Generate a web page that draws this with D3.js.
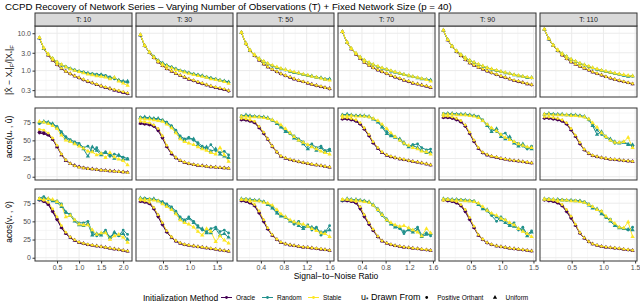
<!DOCTYPE html>
<html>
<head>
<meta charset="utf-8">
<script src="https://cdn.jsdelivr.net/npm/d3@7"></script>
<style>
body { margin: 0; background: #fff; }
svg { display: block; font-family: "Liberation Sans", Arial, sans-serif; }
</style>
</head>
<body>
<svg id="chart" width="640" height="303"></svg>
<script>
// facet labels and signal-to-noise grid of each facet
const panelLabels = ["T: 10", "T: 30", "T: 50", "T: 70", "T: 90", "T: 110"]
const snr = [
    [0.1, 0.2, 0.3, 0.4, 0.5, 0.6, 0.7, 0.8, 0.9, 1.0, 1.1, 1.2, 1.3, 1.4, 1.5, 1.6, 1.7, 1.8, 1.9, 2.0, 2.1],
    [0.08, 0.16, 0.25, 0.33, 0.41, 0.49, 0.57, 0.66, 0.74, 0.82, 0.9, 0.98, 1.07, 1.15, 1.23, 1.31, 1.39, 1.48, 1.56, 1.64, 1.72],
    [0.06, 0.14, 0.21, 0.29, 0.37, 0.45, 0.52, 0.6, 0.68, 0.75, 0.83, 0.91, 0.98, 1.06, 1.14, 1.22, 1.29, 1.37, 1.45, 1.52, 1.6],
    [0.07, 0.15, 0.22, 0.3, 0.37, 0.44, 0.52, 0.59, 0.67, 0.74, 0.82, 0.89, 0.96, 1.04, 1.11, 1.19, 1.26, 1.34, 1.41, 1.49, 1.56],
    [0.06, 0.13, 0.2, 0.27, 0.34, 0.41, 0.48, 0.55, 0.62, 0.69, 0.76, 0.83, 0.91, 0.98, 1.05, 1.12, 1.19, 1.26, 1.33, 1.4, 1.47],
    [0.07, 0.14, 0.21, 0.28, 0.35, 0.42, 0.49, 0.56, 0.63, 0.7, 0.77, 0.83, 0.9, 0.97, 1.04, 1.11, 1.18, 1.25, 1.32, 1.39, 1.46]
]
const xTicks = [[0.5, 1, 1.5, 2], [0.5, 1, 1.5], [0.4, 0.8, 1.2, 1.6], [0.4, 0.8, 1.2, 1.6], [0.5, 1, 1.5], [0.5, 1, 1.5]]
const errTicks = [0.3, 1, 3, 10]
const angleTicks = [0, 25, 50, 75]

// relative error |Xhat - X*|F / |X*|F, one inner array per facet
const errOraclePos = [
    [7.4, 3.9, 2.6, 1.88, 1.42, 1.13, 0.94, 0.81, 0.71, 0.63, 0.56, 0.5, 0.46, 0.42, 0.38, 0.35, 0.32, 0.3, 0.28, 0.26, 0.24],
    [8.9, 4.55, 3.0, 2.18, 1.68, 1.34, 1.11, 0.95, 0.83, 0.73, 0.65, 0.58, 0.53, 0.48, 0.44, 0.41, 0.38, 0.35, 0.33, 0.31, 0.28],
    [10.3, 5.15, 3.38, 2.48, 1.88, 1.49, 1.24, 1.06, 0.92, 0.81, 0.72, 0.65, 0.59, 0.54, 0.5, 0.46, 0.42, 0.39, 0.37, 0.35, 0.32],
    [10.8, 5.55, 3.77, 2.73, 2.08, 1.66, 1.37, 1.18, 1.03, 0.92, 0.82, 0.73, 0.66, 0.6, 0.55, 0.5, 0.46, 0.43, 0.4, 0.38, 0.35],
    [11.9, 6.5, 4.35, 3.17, 2.47, 1.93, 1.59, 1.38, 1.21, 1.08, 0.96, 0.86, 0.77, 0.7, 0.64, 0.59, 0.54, 0.5, 0.47, 0.44, 0.41],
    [12.6, 6.9, 4.65, 3.37, 2.58, 2.05, 1.7, 1.47, 1.29, 1.14, 1.02, 0.91, 0.82, 0.75, 0.68, 0.62, 0.57, 0.53, 0.5, 0.47, 0.44]
]
const errOracleUni = [
    [7.5, 3.85, 2.58, 1.9, 1.45, 1.15, 0.96, 0.82, 0.72, 0.64, 0.57, 0.51, 0.47, 0.42, 0.39, 0.35, 0.33, 0.3, 0.28, 0.26, 0.245],
    [9.0, 4.6, 3.05, 2.2, 1.7, 1.35, 1.12, 0.96, 0.84, 0.74, 0.66, 0.59, 0.54, 0.49, 0.45, 0.41, 0.38, 0.35, 0.33, 0.31, 0.29],
    [10.4, 5.2, 3.4, 2.5, 1.9, 1.5, 1.25, 1.07, 0.93, 0.82, 0.73, 0.66, 0.6, 0.54, 0.5, 0.46, 0.43, 0.4, 0.37, 0.35, 0.33],
    [10.9, 5.6, 3.8, 2.75, 2.1, 1.67, 1.38, 1.19, 1.04, 0.93, 0.83, 0.74, 0.67, 0.61, 0.55, 0.51, 0.46, 0.44, 0.41, 0.38, 0.355],
    [12.0, 6.6, 4.4, 3.2, 2.5, 1.95, 1.6, 1.4, 1.22, 1.09, 0.97, 0.87, 0.78, 0.71, 0.65, 0.6, 0.54, 0.51, 0.48, 0.44, 0.42],
    [12.7, 7.0, 4.7, 3.4, 2.6, 2.07, 1.71, 1.48, 1.3, 1.15, 1.03, 0.92, 0.83, 0.76, 0.68, 0.63, 0.58, 0.54, 0.5, 0.47, 0.44]
]
const errRandomPos = [
    [7.5, 3.9, 2.7, 2.1, 1.7, 1.45, 1.28, 1.15, 1.05, 0.97, 0.92, 0.86, 0.83, 0.8, 0.78, 0.74, 0.68, 0.6, 0.56, 0.5, 0.48],
    [9.0, 4.6, 3.1, 2.4, 1.9, 1.6, 1.4, 1.25, 1.12, 1.02, 0.95, 0.88, 0.82, 0.77, 0.72, 0.68, 0.64, 0.6, 0.56, 0.52, 0.49],
    [10.4, 5.2, 3.5, 2.6, 2.05, 1.75, 1.5, 1.35, 1.22, 1.12, 1.03, 0.96, 0.9, 0.84, 0.79, 0.75, 0.7, 0.67, 0.63, 0.6, 0.58],
    [10.9, 5.6, 3.85, 2.85, 2.3, 1.9, 1.62, 1.42, 1.28, 1.16, 1.06, 0.98, 0.9, 0.84, 0.78, 0.73, 0.68, 0.65, 0.61, 0.57, 0.54],
    [12.0, 6.6, 4.45, 3.35, 2.7, 2.2, 1.88, 1.64, 1.45, 1.3, 1.18, 1.08, 1.0, 0.93, 0.87, 0.82, 0.77, 0.73, 0.69, 0.66, 0.63],
    [12.7, 7.0, 4.75, 3.55, 2.85, 2.35, 2.0, 1.75, 1.56, 1.4, 1.28, 1.17, 1.08, 1.0, 0.94, 0.88, 0.83, 0.79, 0.75, 0.72, 0.7]
]
const errRandomUni = [
    [7.5, 3.9, 2.7, 2.1, 1.65, 1.4, 1.25, 1.12, 1.02, 0.95, 0.88, 0.85, 0.8, 0.74, 0.78, 0.7, 0.62, 0.64, 0.55, 0.52, 0.52],
    [9.0, 4.6, 3.1, 2.35, 1.85, 1.58, 1.38, 1.22, 1.1, 1.0, 0.93, 0.87, 0.8, 0.76, 0.73, 0.66, 0.63, 0.58, 0.55, 0.53, 0.5],
    [10.4, 5.25, 3.5, 2.62, 2.08, 1.72, 1.52, 1.33, 1.2, 1.1, 1.05, 0.94, 0.88, 0.86, 0.78, 0.73, 0.72, 0.65, 0.64, 0.58, 0.6],
    [10.9, 5.65, 3.87, 2.88, 2.28, 1.88, 1.6, 1.44, 1.26, 1.15, 1.07, 0.96, 0.91, 0.83, 0.79, 0.72, 0.69, 0.63, 0.6, 0.58, 0.56],
    [12.0, 6.65, 4.5, 3.33, 2.68, 2.22, 1.86, 1.66, 1.44, 1.31, 1.17, 1.09, 0.99, 0.94, 0.86, 0.83, 0.76, 0.72, 0.7, 0.64, 0.65],
    [12.7, 7.05, 4.78, 3.53, 2.83, 2.37, 1.98, 1.76, 1.54, 1.42, 1.26, 1.18, 1.07, 1.01, 0.93, 0.89, 0.82, 0.8, 0.74, 0.7, 0.72]
]
const errStablePos = [
    [7.6, 3.95, 2.62, 1.92, 1.46, 1.16, 0.95, 0.83, 0.72, 0.65, 0.58, 0.52, 0.47, 0.43, 0.39, 0.36, 0.33, 0.31, 0.29, 0.27, 0.25],
    [9.1, 4.65, 3.08, 2.22, 1.72, 1.36, 1.13, 0.97, 0.85, 0.75, 0.67, 0.6, 0.55, 0.5, 0.46, 0.42, 0.39, 0.36, 0.34, 0.32, 0.29],
    [10.5, 5.25, 3.43, 2.52, 1.92, 1.52, 1.26, 1.08, 0.94, 0.83, 0.74, 0.67, 0.61, 0.55, 0.51, 0.47, 0.43, 0.4, 0.38, 0.35, 0.33],
    [11.0, 5.65, 3.83, 2.77, 2.12, 1.68, 1.39, 1.2, 1.05, 0.94, 0.84, 0.75, 0.68, 0.62, 0.56, 0.52, 0.47, 0.44, 0.41, 0.39, 0.36],
    [12.1, 6.65, 4.45, 3.23, 2.52, 1.97, 1.62, 1.41, 1.23, 1.1, 0.98, 0.88, 0.79, 0.72, 0.66, 0.6, 0.55, 0.52, 0.48, 0.45, 0.42],
    [12.8, 7.05, 4.75, 3.42, 2.62, 2.08, 1.72, 1.49, 1.31, 1.16, 1.04, 0.93, 0.84, 0.77, 0.69, 0.64, 0.58, 0.55, 0.51, 0.48, 0.45]
]
const errStableUni = [
    [7.6, 4.0, 2.8, 2.1, 1.7, 1.45, 1.25, 1.1, 1.0, 0.93, 0.86, 0.8, 0.76, 0.72, 0.7, 0.66, 0.6, 0.65, 0.52, 0.46, 0.4],
    [9.1, 4.7, 3.1, 2.3, 1.8, 1.5, 1.32, 1.18, 1.06, 0.97, 0.9, 0.84, 0.78, 0.73, 0.69, 0.65, 0.6, 0.57, 0.54, 0.5, 0.45],
    [10.5, 5.3, 3.55, 2.65, 2.1, 1.78, 1.55, 1.38, 1.25, 1.14, 1.05, 0.98, 0.92, 0.86, 0.8, 0.75, 0.7, 0.66, 0.62, 0.58, 0.55],
    [11.0, 5.7, 3.9, 2.9, 2.32, 1.92, 1.64, 1.45, 1.3, 1.18, 1.08, 1.0, 0.92, 0.85, 0.79, 0.74, 0.69, 0.65, 0.61, 0.57, 0.52],
    [12.1, 6.7, 4.5, 3.4, 2.72, 2.24, 1.9, 1.66, 1.47, 1.32, 1.2, 1.1, 1.02, 0.95, 0.89, 0.83, 0.78, 0.74, 0.7, 0.67, 0.64],
    [12.8, 7.1, 4.8, 3.6, 2.88, 2.38, 2.02, 1.77, 1.58, 1.42, 1.3, 1.19, 1.1, 1.02, 0.96, 0.9, 0.85, 0.81, 0.77, 0.74, 0.72]
]

// angle between u* and its estimate (degrees)
const acuOraclePos = [
    [60, 59, 57, 51, 42, 31, 23, 18, 15, 13.5, 12.5, 11.5, 10.5, 10, 9.2, 8.6, 8, 7.5, 7, 6.5, 6],
    [73, 72, 71, 69, 63, 53, 41, 31, 25.5, 22, 19.5, 17.8, 16.5, 15.5, 14.8, 14, 13.4, 13, 12.4, 12, 11.4],
    [78, 77.5, 76, 74, 67, 59, 51, 41, 33.5, 28, 25.2, 23.3, 21.8, 20.4, 19.2, 18, 17, 16, 15, 14, 13],
    [79, 79, 78, 76, 72, 65, 56, 46, 38.5, 33, 29.2, 27.2, 25.7, 24.3, 23.2, 21.8, 20.8, 19.8, 18.8, 17.3, 15.8],
    [81, 81, 80, 78, 75, 69, 59, 48, 38.5, 32.5, 29.6, 27.7, 26.2, 24.8, 23.8, 22.8, 21.8, 21.2, 20.3, 19.5, 18.8],
    [80, 80, 79, 78, 76, 72, 64, 55, 45, 36.5, 31.6, 28.7, 27.2, 25.8, 24.8, 23.8, 23.3, 22.8, 21.8, 21.3, 20.8]
]
const acuOracleUni = [
    [62, 61, 58, 52, 41, 30, 22, 18, 15.5, 13.5, 12, 11, 10.5, 9.5, 9, 8.5, 8, 7.5, 7, 6.5, 6],
    [74, 73, 72, 70, 65, 55, 42, 32, 26, 22, 19.5, 18, 16.5, 15.5, 15, 14, 13.5, 13, 12.5, 12, 11.5],
    [79, 78.5, 77, 75, 68, 60, 52, 42, 34, 28, 25.5, 23.5, 22, 20.5, 19.3, 18, 17, 16, 15, 14, 13],
    [80, 80, 79, 77, 73, 66, 57, 47, 39, 33, 29.5, 27.5, 26, 24.5, 23.5, 22, 21, 20, 19, 17.5, 16],
    [82, 82, 81, 79, 76, 70, 60, 49, 39, 33, 30, 28, 26.5, 25, 24, 23, 22, 21.5, 20.5, 19.7, 19],
    [81, 81, 80, 79, 77, 73, 65, 56, 46, 37, 32, 29, 27.5, 26, 25, 24, 23.5, 23, 22, 21.5, 21]
]
const acuRandomPos = [
    [73, 75, 74, 72, 69, 62, 55, 51, 48, 46, 40, 42, 35, 40, 32, 34, 28, 31, 29, 27, 25],
    [82, 81, 80, 80, 79, 78, 75, 70, 64, 56, 52, 54, 50, 47, 42, 38, 44, 36, 33, 35, 30],
    [84, 84, 83, 83, 83, 82, 80, 77, 74, 70, 64, 59, 56, 52, 48, 43, 45, 40, 42, 36, 38],
    [85, 85, 84, 84, 84, 83, 82, 80, 76, 70, 62, 58, 55, 50, 45, 42, 44, 45, 40, 37, 38],
    [87, 87, 86, 86, 86, 85, 85, 84, 83, 78, 72, 66, 62, 58, 60, 52, 48, 46, 42, 38, 42],
    [86, 86, 86, 85, 85, 85, 85, 84, 84, 82, 78, 72, 64, 58, 54, 50, 46, 47, 48, 45, 42]
]
const acuRandomUni = [
    [75, 76, 75, 73, 68, 60, 53, 49, 46, 44, 38, 28, 41, 36, 30, 33, 31, 25, 30, 24, 24],
    [81, 82, 81, 80, 80, 77, 74, 69, 62, 54, 50, 53, 52, 44, 40, 41, 35, 38, 31, 28, 26],
    [83, 85, 84, 83, 82, 82, 81, 78, 73, 68, 62, 60, 53, 50, 45, 38, 42, 36, 40, 34, 36],
    [85, 86, 85, 84, 84, 84, 83, 79, 75, 68, 59, 56, 54, 52, 47, 41, 43, 40, 36, 33, 34],
    [86, 87, 87, 86, 86, 86, 85, 84, 82, 77, 70, 62, 66, 55, 52, 55, 46, 42, 45, 40, 38],
    [86, 87, 86, 86, 86, 85, 85, 85, 84, 83, 79, 70, 58, 62, 55, 52, 48, 46, 47, 44, 44]
]
const acuStablePos = [
    [65, 64, 60, 53, 43, 31, 23, 18, 15, 13, 12, 11, 10.5, 9.8, 9, 8.5, 8, 7.5, 7, 6.5, 5.5],
    [76, 75, 74, 71, 66, 56, 43, 33, 26.5, 22.5, 20, 18.2, 16.8, 15.8, 15, 14.2, 13.6, 13.1, 12.6, 12, 11.6],
    [80, 79.5, 78, 76, 69, 61, 52, 42, 34, 28.5, 25.8, 23.8, 22.2, 20.8, 19.5, 18.2, 17.2, 16.2, 15.2, 14.2, 13.3],
    [81, 81, 80, 78, 74, 67, 58, 48, 40, 34, 30, 28, 26.3, 24.8, 23.8, 22.3, 21.2, 20.2, 19.2, 17.7, 16.3],
    [83, 83, 82, 80, 77, 71, 61, 50, 40, 33.5, 30.4, 28.3, 26.8, 25.3, 24.2, 23.2, 22.2, 21.7, 20.7, 19.9, 19.2],
    [82, 82, 81, 80, 78, 74, 66, 57, 47, 37.5, 32.4, 29.3, 27.8, 26.2, 25.2, 24.2, 23.7, 23.2, 22.2, 21.7, 21.2]
]
const acuStableUni = [
    [76, 75, 73, 70, 66, 57, 50, 48, 45, 42, 39, 35, 34, 30, 32, 26, 33, 27, 24, 22, 16],
    [80, 79, 79, 78, 77, 76, 72, 67, 60, 52, 48, 46, 44, 41, 38, 36, 33, 31, 40, 30, 21],
    [83, 83, 82, 82, 82, 81, 80, 78, 75, 71, 66, 60, 55, 50, 47, 44, 41, 38, 35, 33, 31],
    [84, 84, 84, 83, 83, 83, 82, 80, 77, 72, 66, 60, 55, 50, 46, 43, 40, 38, 35, 34, 31],
    [86, 86, 86, 85, 85, 85, 84, 83, 81, 77, 72, 67, 63, 58, 54, 51, 48, 45, 43, 41, 40],
    [86, 86, 85, 85, 85, 85, 84, 84, 83, 82, 79, 74, 68, 60, 55, 50, 47, 47, 48, 54, 40]
]

// angle between v* and its estimate (degrees)
const acvOraclePos = [
    [79, 77, 73, 63, 52, 41, 33, 27.5, 23.5, 20.7, 19.2, 17.8, 16.8, 15.8, 14.8, 13.8, 12.8, 11.8, 10.8, 9.8, 8.8],
    [77, 76, 74, 67, 56, 45, 35, 27.5, 22.6, 19.7, 17.8, 16.8, 15.8, 14.8, 14.1, 13.3, 12.3, 11.3, 10.3, 9.5, 8.8],
    [78, 77, 75, 71, 61, 49, 39, 30.5, 24.6, 20.7, 18.8, 17.3, 16.3, 15.3, 14.3, 13.8, 13.1, 12.3, 11.6, 10.8, 9.8],
    [78, 78, 77, 75, 67, 56, 45.5, 37, 28.5, 22.7, 19.8, 17.8, 16.3, 15.3, 14.3, 13.6, 12.8, 12.1, 11.3, 10.6, 9.8],
    [79, 78, 77, 75, 71, 63, 52, 41, 30.5, 24.6, 20.2, 17.8, 15.8, 14.8, 13.8, 12.8, 12, 11.3, 10.6, 9.8, 9.1],
    [79, 78, 77, 75, 71, 63, 54, 44, 33.5, 26.6, 21.7, 18.8, 16.8, 15.3, 14.3, 13.6, 13, 12.3, 11.3, 10.6, 9.8]
]
const acvOracleUni = [
    [80, 78, 74, 65, 54, 42, 33.5, 28, 24, 21, 19.5, 18, 17, 16, 15, 14, 13, 12, 11, 10, 9],
    [78, 77, 75, 68, 58, 47, 36, 28, 23, 20, 18, 17, 16, 15, 14.3, 13.5, 12.5, 11.5, 10.5, 9.7, 9],
    [79, 78, 76, 72, 63, 51, 40, 31, 25, 21, 19, 17.5, 16.5, 15.5, 14.5, 14, 13.3, 12.5, 11.8, 11, 10],
    [79, 79, 78, 76, 69, 58, 47, 38, 29, 23, 20, 18, 16.5, 15.5, 14.5, 13.8, 13, 12.3, 11.5, 10.8, 10],
    [80, 79, 78, 76, 72, 65, 54, 42, 31, 25, 20.5, 18, 16, 15, 14, 13, 12.2, 11.5, 10.8, 10, 9.3],
    [80, 79, 78, 76, 72, 65, 56, 45, 34, 27, 22, 19, 17, 15.5, 14.5, 13.8, 13.2, 12.5, 11.5, 10.8, 10]
]
const acvRandomPos = [
    [82, 84, 80, 79, 78, 74, 62, 60, 52, 48, 48, 50, 35, 30, 33, 38, 26, 34, 30, 38, 32],
    [81, 82, 81, 80, 79, 77, 74, 70, 64, 56, 52, 56, 50, 44, 38, 36, 40, 42, 36, 38, 34],
    [80, 81, 80, 79, 78, 77, 74, 70, 63, 58, 55, 51, 46, 50, 42, 45, 38, 42, 31, 35, 44],
    [80, 80, 80, 79, 79, 78, 76, 72, 65, 58, 51, 47, 44, 40, 33, 40, 38, 42, 31, 34, 30],
    [80, 81, 80, 80, 80, 79, 79, 78, 74, 68, 64, 58, 50, 56, 52, 46, 48, 38, 42, 32, 37],
    [80, 81, 80, 80, 80, 79, 79, 79, 78, 77, 74, 70, 66, 64, 55, 53, 46, 42, 40, 38, 42]
]
const acvRandomUni = [
    [80, 82, 81, 78, 76, 70, 63, 58, 50, 45, 44, 47, 31, 33, 31, 36, 28, 35, 31, 33, 25],
    [82, 81, 80, 81, 78, 76, 72, 68, 62, 54, 50, 54, 48, 42, 40, 34, 34, 40, 31, 33, 28],
    [81, 80, 80, 79, 79, 77, 73, 68, 61, 57, 56, 50, 49, 44, 40, 43, 42, 40, 35, 36, 38],
    [79, 81, 80, 80, 79, 78, 77, 73, 67, 60, 53, 46, 42, 41, 36, 38, 35, 39, 29, 32, 33],
    [81, 80, 80, 80, 79, 79, 78, 77, 73, 67, 66, 60, 56, 52, 48, 44, 43, 40, 38, 30, 35],
    [81, 80, 80, 80, 79, 79, 79, 78, 78, 76, 72, 68, 67, 60, 56, 50, 44, 41, 40, 39, 38]
]
const acvStablePos = [
    [81, 79, 76, 67, 56, 44, 35, 28.5, 24.5, 21.3, 19.7, 18.2, 17.2, 16.2, 15.2, 14.2, 13.2, 12.2, 11.2, 10.2, 9.2],
    [79, 78, 76, 69, 59, 48, 37, 28.5, 23.4, 20.3, 18.2, 17.2, 16.2, 15.2, 14.5, 13.7, 12.7, 11.7, 10.7, 9.9, 9.2],
    [80, 79, 77, 73, 64, 52, 41, 31.5, 25.4, 21.3, 19.2, 17.7, 16.7, 15.7, 14.7, 14.2, 13.5, 12.7, 12, 11.2, 10.2],
    [80, 80, 79, 77, 70, 59, 48, 39, 29.5, 23.3, 20.2, 18.2, 16.7, 15.7, 14.7, 14, 13.2, 12.5, 11.7, 11, 10.2],
    [81, 80, 79, 77, 73, 66, 55, 43, 31.5, 25.4, 20.8, 18.2, 16.2, 15.2, 14.2, 13.2, 12.4, 11.7, 11, 10.2, 9.5],
    [81, 80, 79, 77, 73, 66, 57, 46, 34.5, 27.4, 22.3, 19.2, 17.2, 15.7, 14.7, 14, 13.4, 12.7, 11.7, 11, 10.2]
]
const acvStableUni = [
    [81, 80, 81, 80, 77, 72, 56, 58, 52, 46, 45, 45, 38, 32, 34, 34, 25, 30, 32, 28, 21],
    [81, 80, 80, 79, 78, 74, 70, 66, 60, 52, 48, 46, 42, 36, 31, 40, 36, 22, 30, 24, 20],
    [80, 80, 79, 78, 78, 76, 75, 72, 66, 60, 56, 52, 49, 47, 46, 43, 40, 37, 34, 33, 29],
    [80, 80, 79, 79, 78, 77, 76, 72, 66, 59, 52, 48, 45, 43, 44, 41, 38, 35, 30, 40, 34],
    [79, 80, 79, 79, 79, 78, 78, 77, 75, 70, 65, 61, 58, 54, 52, 48, 45, 40, 36, 33, 29],
    [80, 80, 80, 79, 79, 79, 78, 78, 77, 76, 73, 70, 66, 64, 57, 52, 47, 42, 41, 49, 29]
]

const methods = ["Oracle", "Random", "Stable"]
const draws = ["Positive Orthant", "Uniform"]
const methodColors = ["#440154", "#21908C", "#FDE725"]

const width = 640,
    height = 303
const svg = d3.select("#chart")

const panelLeft = 35, panelW = 97, panelGap = 4
const rowBox = [[26, 97], [108, 180], [189, 261]]
const stripTop = 13

// series in ggplot group order: Oracle, Random, Stable x (Positive, Uniform)
const rows = [
    { data: [errOraclePos, errOracleUni, errRandomPos, errRandomUni, errStablePos, errStableUni], log: true, ticks: errTicks },
    { data: [acuOraclePos, acuOracleUni, acuRandomPos, acuRandomUni, acuStablePos, acuStableUni], log: false, ticks: angleTicks },
    { data: [acvOraclePos, acvOracleUni, acvRandomPos, acvRandomUni, acvStablePos, acvStableUni], log: false, ticks: angleTicks }
]
const seriesMeta = [[0, 0], [0, 1], [1, 0], [1, 1], [2, 0], [2, 1]]

const circle = d3.symbol().type(d3.symbolCircle).size(6)
const triangle = d3.symbol().type(d3.symbolTriangle).size(8)

rows.forEach((row, r) => {
    const [y0, y1] = rowBox[r]
    let y
    if (row.log) {
        const all = row.data.flat(2)
        const lo = Math.log10(d3.min(all)), hi = Math.log10(d3.max(all))
        const pad = (hi - lo) * 0.05
        y = d3.scaleLog().domain([10 ** (lo - pad), 10 ** (hi + pad)]).range([y1, y0])
    } else {
        y = d3.scaleLinear().domain([-4.5, 94.5]).range([y1, y0])
    }
    // minor y breaks halfway between majors (in transformed space)
    const yMinor = []
    const tr = row.log ? Math.log10 : (v => v)
    const inv = row.log ? (v => 10 ** v) : (v => v)
    for (let k = 0; k <= row.ticks.length; k++) {
        const a = k > 0 ? tr(row.ticks[k - 1]) : tr(row.ticks[0]) - (tr(row.ticks[1]) - tr(row.ticks[0]))
        const b = k < row.ticks.length ? tr(row.ticks[k]) : tr(row.ticks[k - 1]) + (tr(row.ticks[k - 1]) - tr(row.ticks[k - 2]))
        const m = inv((a + b) / 2)
        const py = y(m)
        if (py > y0 && py < y1) yMinor.push(m)
    }

    panelLabels.forEach((lab, p) => {
        const px0 = panelLeft + p * (panelW + panelGap)
        const xs = snr[p]
        const span = d3.max(xs) - d3.min(xs)
        const x = d3.scaleLinear()
            .domain([d3.min(xs) - span * 0.05, d3.max(xs) + span * 0.05])
            .range([px0, px0 + panelW])
        const ticks = xTicks[p]
        const step = ticks[1] - ticks[0]
        const xMinor = [ticks[0] - step / 2, ...ticks.map(t => t + step / 2)]
            .filter(v => x(v) > px0 && x(v) < px0 + panelW)

        const g = svg.append("g")
        g.append("rect").attr("x", px0).attr("y", y0).attr("width", panelW).attr("height", y1 - y0).attr("fill", "#fff")

        g.selectAll(".xmin").data(xMinor).join("line")
            .attr("x1", d => x(d)).attr("x2", d => x(d)).attr("y1", y0).attr("y2", y1)
            .attr("stroke", "#F2F2F2").attr("stroke-width", 0.6)
        g.selectAll(".ymin").data(yMinor).join("line")
            .attr("x1", px0).attr("x2", px0 + panelW).attr("y1", d => y(d)).attr("y2", d => y(d))
            .attr("stroke", "#F2F2F2").attr("stroke-width", 0.6)
        g.selectAll(".xmaj").data(ticks).join("line")
            .attr("x1", d => x(d)).attr("x2", d => x(d)).attr("y1", y0).attr("y2", y1)
            .attr("stroke", "#EBEBEB").attr("stroke-width", 1)
        g.selectAll(".ymaj").data(row.ticks).join("line")
            .attr("x1", px0).attr("x2", px0 + panelW).attr("y1", d => y(d)).attr("y2", d => y(d))
            .attr("stroke", "#EBEBEB").attr("stroke-width", 1)

        const line = d3.line().x(d => x(d[0])).y(d => y(d[1]))
        const series = row.data.map((s, k) => ({ pts: xs.map((v, i) => [v, s[p][i]]), meta: seriesMeta[k] }))

        // lines layer then points layer, like ggplot
        series.forEach(s => {
            g.append("path").attr("d", line(s.pts)).attr("fill", "none")
                .attr("stroke", methodColors[s.meta[0]]).attr("stroke-width", 1)
        })
        series.forEach(s => {
            g.selectAll(null).data(s.pts).join("path")
                .attr("transform", d => `translate(${x(d[0])},${y(d[1])})`)
                .attr("d", s.meta[1] === 0 ? circle : triangle)
                .attr("fill", methodColors[s.meta[0]])
        })

        g.append("rect").attr("x", px0).attr("y", y0).attr("width", panelW).attr("height", y1 - y0)
            .attr("fill", "none").attr("stroke", "#333").attr("stroke-width", 1)

        if (r === 0) {
            g.append("rect").attr("x", px0).attr("y", stripTop).attr("width", panelW).attr("height", y0 - stripTop)
                .attr("fill", "#D9D9D9").attr("stroke", "#333").attr("stroke-width", 1)
            g.append("text").attr("x", px0 + panelW / 2).attr("y", (stripTop + y0) / 2 + 2.4)
                .attr("text-anchor", "middle").attr("font-size", 7).attr("fill", "#1A1A1A").text(lab)
        }
        if (r === rows.length - 1) {
            const ax = g.append("g").attr("transform", `translate(0,${y1})`)
                .call(d3.axisBottom(x).tickValues(ticks).tickFormat(d3.format(".1f")).tickSize(2.5).tickPadding(1.5))
            ax.select(".domain").remove()
            ax.selectAll("line").attr("stroke", "#333")
            ax.selectAll("text").attr("font-size", 7).attr("fill", "#4D4D4D").attr("font-family", null)
        }
        if (p === 0) {
            const ay = g.append("g").attr("transform", `translate(${px0},0)`)
                .call(d3.axisLeft(y).tickValues(row.ticks).tickFormat(d3.format(row.log ? ".1f" : "d")).tickSize(2.5).tickPadding(1.5))
            ay.select(".domain").remove()
            ay.selectAll("line").attr("stroke", "#333")
            ay.selectAll("text").attr("font-size", 7).attr("fill", "#4D4D4D").attr("font-family", null)
        }
    })
})

// title
svg.append("text").attr("x", 5).attr("y", 10).attr("font-size", 9.7).attr("fill", "#000")
    .text("CCPD Recovery of Network Series \u2013 Varying Number of Observations (T) + Fixed Network Size (p = 40)")

// text with small lowered parts (subscripts)
const subText = (t, parts) => {
    parts.forEach(([s, sub]) => {
        const ts = t.append("tspan").text(s)
        if (sub) ts.attr("baseline-shift", "-1.5").attr("font-size", "70%")
    })
}
const yTitleCenters = [70, 137, 222]
const yTitles = [
    [["|X\u0302 \u2212 X", false], ["*", true], ["|", false], ["F", true], ["/|X", false], ["*", true], ["|", false], ["F", true]],
    [["acos(u", false], ["*", true], [" , u\u0302)", false]],
    [["acos(v", false], ["*", true], [" , v\u0302)", false]]
]
yTitles.forEach((parts, r) => {
    const t = svg.append("text").attr("transform", `translate(12,${yTitleCenters[r]}) rotate(-90)`)
        .attr("text-anchor", "middle").attr("font-size", 8.5).attr("fill", "#000")
    subText(t, parts)
})

// x axis title
svg.append("text").attr("x", 336).attr("y", 279).attr("text-anchor", "middle").attr("font-size", 8.5)
    .text("Signal\u2212to\u2212Noise Ratio")

// legend
const ly = 297.5
svg.append("text").attr("x", 143).attr("y", ly + 3).attr("font-size", 8.5).text("Initialization Method")
const keyX = [221, 262, 308]
methods.forEach((m, k) => {
    svg.append("line").attr("x1", keyX[k]).attr("x2", keyX[k] + 11).attr("y1", ly).attr("y2", ly)
        .attr("stroke", methodColors[k]).attr("stroke-width", 1)
    svg.append("path").attr("transform", `translate(${keyX[k] + 5.5},${ly})`).attr("d", circle).attr("fill", methodColors[k])
    svg.append("text").attr("x", keyX[k] + 15).attr("y", ly + 2.3).attr("font-size", 6.5).text(m)
})
const lt = svg.append("text").attr("x", 361).attr("y", ly + 2.5).attr("font-size", 9)
subText(lt, [["u", false], ["*", true], [" Drawn From", false]])
const shapeX = [426.7, 495]
draws.forEach((d, k) => {
    svg.append("path").attr("transform", `translate(${shapeX[k]},${ly})`).attr("d", k === 0 ? circle : triangle).attr("fill", "#000")
    svg.append("text").attr("x", shapeX[k] + 10.5).attr("y", ly + 2.3).attr("font-size", 6.5).text(d)
})
</script>
</body>
</html>
